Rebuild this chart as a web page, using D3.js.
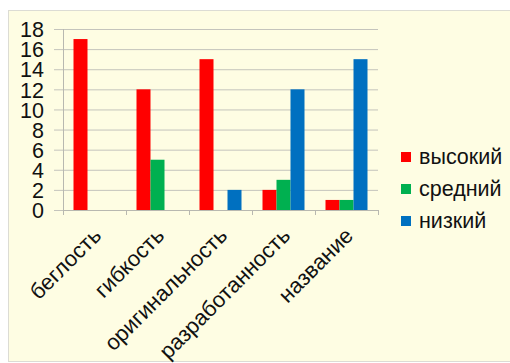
<!DOCTYPE html>
<html>
<head>
<meta charset="utf-8">
<script src="https://cdn.jsdelivr.net/npm/d3@7"></script>
<style>
  html, body { margin: 0; padding: 0; background: #ffffff; }
  svg { display: block; font-family: "Liberation Sans", Arial, sans-serif; }
</style>
</head>
<body>
<svg id="chart" width="510" height="363"></svg>
<script>
// Categories and series
const categories = ["беглость", "гибкость", "оригинальность", "разработанность", "название"];
const seriesNames = ["высокий", "средний", "низкий"];
const seriesColors = ["#ff0000", "#00b050", "#0070c0"];
const high = [17, 12, 15, 2, 1];
const medium = [0, 5, 0, 3, 1];
const low = [0, 0, 2, 12, 15];
const yTicks = [0, 2, 4, 6, 8, 10, 12, 14, 16, 18];

const seriesValues = [high, medium, low];

const svg = d3.select("#chart");

// Cream panel behind the chart
svg.append("rect")
  .attr("x", 8.5).attr("y", 10.5)
  .attr("width", 510).attr("height", 351)
  .attr("fill", "#fefde3")
  .attr("stroke", "#dcdcd4").attr("stroke-width", 1);

const plot = { left: 63, right: 378, top: 29, bottom: 210 };

const x = d3.scaleBand()
  .domain(categories)
  .range([plot.left, plot.right])
  .paddingInner(0).paddingOuter(0);

const inner = d3.scaleBand()
  .domain(seriesNames)
  .range([0, x.bandwidth()])
  .paddingInner(0)
  .paddingOuter(0.75);

const y = d3.scaleLinear().domain([0, 18]).range([plot.bottom, plot.top]);

// Horizontal gridlines with short ticks on the left
const yAxis = d3.axisLeft(y)
  .tickValues(yTicks)
  .tickSize(-(plot.right - plot.left) - 9)
  .tickPadding(10)
  .tickFormat(d3.format("d"));

const gy = svg.append("g")
  .attr("transform", `translate(${plot.left - 9},0)`)
  .call(yAxis);
gy.select(".domain").remove();
gy.selectAll(".tick line").attr("stroke", "#c4c4bc").attr("stroke-width", 1);
gy.selectAll(".tick text")
  .attr("font-size", 21.5)
  .attr("fill", "#111")
  .attr("dy", "0.36em");

// Vertical axis line
svg.append("line")
  .attr("x1", plot.left + 0.5).attr("x2", plot.left + 0.5)
  .attr("y1", plot.top).attr("y2", plot.bottom)
  .attr("stroke", "#b8b8b0");

// Bars
const groups = svg.append("g").selectAll("g")
  .data(categories)
  .join("g")
  .attr("transform", d => `translate(${x(d)},0)`);

groups.selectAll("rect")
  .data((c, i) => seriesNames.map((s, j) => ({ s, j, v: seriesValues[j][i] })))
  .join("rect")
  .filter(d => d.v > 0)
  .attr("x", d => inner(d.s))
  .attr("width", inner.bandwidth())
  .attr("y", d => y(d.v))
  .attr("height", d => y(0) - y(d.v))
  .attr("fill", d => seriesColors[d.j]);

// Category axis
const xAxis = d3.axisBottom(x).tickSize(0).tickFormat("");
const gx = svg.append("g")
  .attr("transform", `translate(0,${plot.bottom + 0.5})`)
  .call(xAxis);
gx.select(".domain").attr("stroke", "#b8b8b0").attr("d", `M${plot.left},0H${plot.right}`);

// Tick marks at category boundaries
const bounds = categories.map(c => x(c)).concat([plot.right]);
svg.append("g").selectAll("line")
  .data(bounds)
  .join("line")
  .attr("x1", d => Math.round(d) + 0.5).attr("x2", d => Math.round(d) + 0.5)
  .attr("y1", plot.bottom).attr("y2", plot.bottom + 5)
  .attr("stroke", "#b8b8b0");

// Rotated category labels
svg.append("g").selectAll("text")
  .data(categories)
  .join("text")
  .attr("transform", d => `translate(${x(d) + x.bandwidth() / 2 + 8},${plot.bottom + 27}) rotate(-45)`)
  .attr("text-anchor", "end")
  .attr("font-size", 22)
  .attr("fill", "#111")
  .text(d => d);

// Legend
const legend = svg.append("g").selectAll("g")
  .data(seriesNames)
  .join("g")
  .attr("transform", (d, i) => `translate(401,${152 + i * 32})`);
legend.append("rect")
  .attr("width", 10).attr("height", 10)
  .attr("fill", (d, i) => seriesColors[i]);
legend.append("text")
  .attr("x", 18).attr("y", 11.5)
  .attr("font-size", 21.5)
  .attr("fill", "#111")
  .text(d => d);
</script>
</body>
</html>
